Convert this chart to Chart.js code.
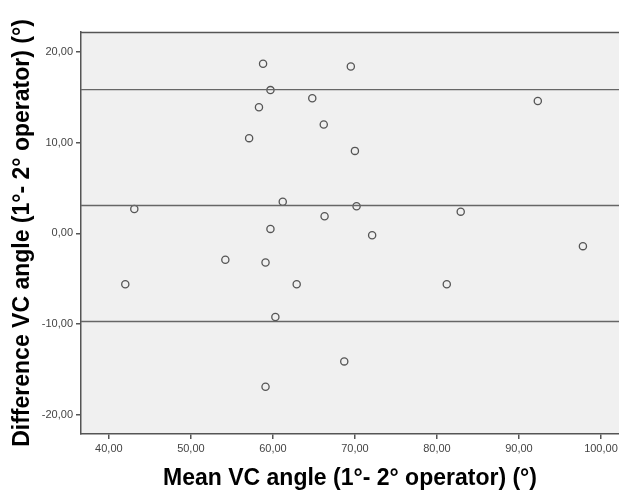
<!DOCTYPE html>
<html>
<head>
<meta charset="utf-8">
<script src="https://cdn.jsdelivr.net/npm/chart.js@4/dist/chart.umd.min.js"></script>
<style>
  html, body { margin: 0; padding: 0; background: #fff; }
  #wrap { width: 619px; height: 496px; }
</style>
</head>
<body>
<div id="wrap"><canvas id="grafico" width="619" height="496"></canvas></div>
<script>
// medias e diferencas (1o - 2o operador)
const meanAngle = [58.8, 59.7, 58.3, 64.8, 57.1, 43.1, 61.2, 59.7, 69.5, 92.3, 66.2, 70.0, 70.2,
                   66.3, 82.9, 72.1, 97.8, 54.2, 59.1, 42.0, 62.9, 60.3, 59.1, 81.2, 68.7]
const diffAngle = [18.7, 15.8, 13.9, 14.9, 10.5, 2.7, 3.5, 0.5, 18.4, 14.6, 12.0, 9.1, 3.0,
                   1.9, 2.4, -0.2, -1.4, -2.9, -3.2, -5.6, -5.6, -9.2, -16.9, -5.6, -14.1]

// linhas de referencia (media e limites)
const meanDiff = 3.08
const upperLimit = 15.86
const lowerLimit = -9.7

const xMin = 36.6, xMax = 102.2
const yMin = -22.1, yMax = 22.2

const pontos = meanAngle.map((m, i) => ({ x: m, y: diffAngle[i] }))
const linha = v => [{ x: xMin, y: v }, { x: xMax, y: v }]

const fmt = v => Number(v).toFixed(2).replace('.', ',')

const fundo = {
  id: 'fundo',
  beforeDraw(chart) {
    const { ctx, chartArea } = chart
    ctx.save()
    ctx.fillStyle = '#f0f0f0'
    ctx.fillRect(chartArea.left, chartArea.top, chartArea.right - chartArea.left, chartArea.bottom - chartArea.top)
    ctx.strokeStyle = '#555'
    ctx.lineWidth = 1.5
    ctx.beginPath()
    ctx.moveTo(chartArea.left, chartArea.top + 0.5)
    ctx.lineTo(chartArea.right, chartArea.top + 0.5)
    ctx.stroke()
    ctx.restore()
  }
}

const refLine = (v) => ({
  type: 'line',
  data: linha(v),
  borderColor: '#666',
  borderWidth: 1.3,
  pointRadius: 0,
  fill: false
})

new Chart('grafico', {
  type: 'scatter',
  data: {
    datasets: [
      refLine(upperLimit),
      refLine(meanDiff),
      refLine(lowerLimit),
      {
        data: pontos,
        pointRadius: 3.6,
        pointBorderWidth: 1.3,
        borderColor: '#555',
        backgroundColor: 'rgba(0,0,0,0)'
      }
    ]
  },
  options: {
    responsive: false,
    animation: false,
    layout: { autoPadding: false, padding: { top: 32, right: 0, left: 0, bottom: 0 } },
    plugins: { legend: { display: false }, tooltip: { enabled: false } },
    scales: {
      x: {
        type: 'linear',
        min: xMin,
        max: xMax,
        afterFit: s => { s.height = 62; s.paddingRight = 0; s.paddingLeft = 0 },
        border: { display: true, color: '#555', width: 1.5 },
        grid: { display: true, drawOnChartArea: false, tickLength: 5, color: '#555', lineWidth: 1.5 },
        ticks: {
          stepSize: 10,
          includeBounds: false,
          maxRotation: 0,
          padding: 3,
          color: '#444',
          font: { family: 'Liberation Sans, Arial', size: 11 },
          callback: v => fmt(v)
        },
        title: {
          display: true,
          text: 'Mean VC angle (1°- 2° operator) (°)',
          color: '#000',
          font: { family: 'Liberation Sans, Arial', size: 23, weight: 'bold' },
          padding: { top: 0, bottom: 4 }
        }
      },
      y: {
        type: 'linear',
        min: yMin,
        max: yMax,
        afterFit: s => { s.width = 81; s.paddingTop = 0; s.paddingBottom = 0 },
        border: { display: true, color: '#555', width: 1.5 },
        grid: { display: true, drawOnChartArea: false, tickLength: 5, color: '#555', lineWidth: 1.5 },
        ticks: {
          stepSize: 10,
          includeBounds: false,
          padding: 3,
          color: '#444',
          font: { family: 'Liberation Sans, Arial', size: 11 },
          callback: v => fmt(v)
        },
        title: {
          display: true,
          text: 'Difference VC angle (1°- 2° operator) (°)',
          color: '#000',
          font: { family: 'Liberation Sans, Arial', size: 23, weight: 'bold' },
          padding: { top: 9, bottom: 0 }
        }
      }
    }
  },
  plugins: [fundo]
})
</script>
</body>
</html>
